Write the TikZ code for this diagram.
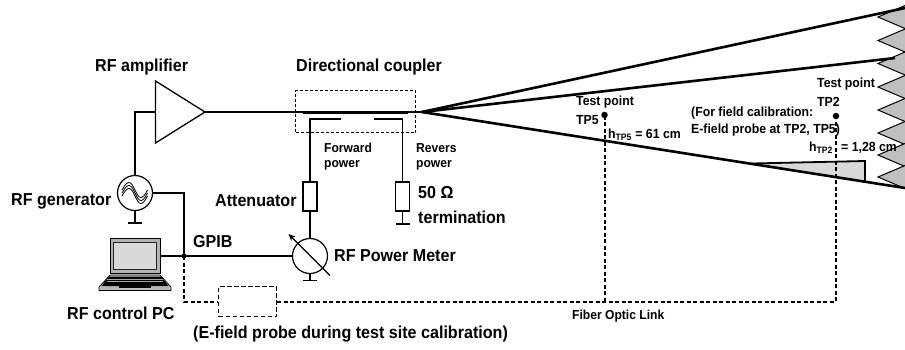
\documentclass[tikz,border=0pt]{standalone}
\usepackage{fontspec}
\setmainfont[FakeStretch=0.93]{Liberation Sans}
\usetikzlibrary{arrows.meta}
\definecolor{lg}{gray}{0.85}
\definecolor{ag}{gray}{0.75}
\tikzset{
  lbl/.style={anchor=west,inner sep=0pt,font=\fontsize{17.3}{19}\bfseries\selectfont,text=black},
  sm/.style={anchor=west,inner sep=0pt,font=\fontsize{13}{15}\bfseries\selectfont,text=black},
  md/.style={anchor=west,inner sep=0pt,font=\fontsize{13.2}{15}\bfseries\selectfont,text=black},
  wire/.style={draw=black,line width=1.3pt},
  dashlink/.style={draw=black,line width=2pt,dash pattern=on 4pt off 2.5pt},
  dashbox/.style={draw=black,line width=1.1pt,dash pattern=on 3pt off 2pt},
  probebox/.style={draw=black,line width=1.1pt,dash pattern=on 4.5pt off 2.5pt},
  horn/.style={draw=black,line width=2.6pt},
  roundel/.style={circle,draw=black,line width=1.2pt,minimum size=35pt,inner sep=0pt,fill=white},
  res/.style={rectangle,draw=black,line width=1.2pt,minimum width=14pt,minimum height=29pt,inner sep=0pt,fill=white},
  pt/.style={circle,fill=black,inner sep=0pt,minimum size=6.5pt},
}
\begin{document}
\begin{tikzpicture}[x=1pt,y=-1pt]
\useasboundingbox[fill=white] (0,0) rectangle (905,349);
% absorbers
\foreach \t in {17,40.5,63.5,87,110,133,155,177}{
  \path[fill=ag,draw=black,line width=1pt] (905,\t-11.5) -- (878,\t) -- (905,\t+11.5);
}
% named points
\coordinate (apex) at (422,112);
\coordinate (h1) at (905,8);
\coordinate (h2) at (895,58);
\coordinate (h3) at (905,188);
\coordinate (ampA) at (155.5,81);
\coordinate (ampB) at (155.5,143);
\coordinate (ampC) at (205,112);
\coordinate (ampIn) at (155.5,112);
% devices
\node[roundel] (gen) at (135,193) {};
\node[roundel] (meter) at (310,256) {};
\node[res] (att) at (310,196.5) {};
\node[res] (term) at (402.5,196.5) {};
\node[rectangle,dashbox,minimum width=120pt,minimum height=42pt,inner sep=0pt] (coupler) at (355.5,111.5) {};
\node[rectangle,probebox,minimum width=58pt,minimum height=30pt,inner sep=0pt] (probe) at (247.5,301.5) {};
\node[pt] (tp5) at (604.5,115) {};
\node[pt] (tp2) at (836,116) {};
\node[circle,fill=black,inner sep=0pt,minimum size=5pt] (junc) at (184,256) {};
% laptop
\node[rectangle,draw=black,fill=gray!60,line width=.8pt,minimum width=50pt,minimum height=35pt,inner sep=0pt] (pc) at (135,256) {};
\path[fill=lg,draw=black!85,line width=.9pt] (113.5,242.5) rectangle (156.5,269.5);
\path[fill=gray!50,draw=black,line width=.7pt] (110,275) -- (160,275) -- (171,287) -- (171,290.5) -- (99,290.5) -- (99,287) -- cycle;
\path[fill=black] (109,276.5) -- (161,276.5) -- (168.5,286) -- (101.5,286) -- cycle;
\foreach \y in {279,281.5}{\path[draw=gray!70,line width=.5pt] (107,\y) -- (163,\y);}
\path[fill=gray!60] (101,287) rectangle (119,288.8);
\path[fill=gray!60] (151,287) rectangle (169,288.8);
\path[fill=black] (119,285.5) rectangle (151,288);
% horn
\path[fill=lg,draw=black,line width=1.8pt] (751.5,163.5) -- (865,161) -- (865,181.5);
\draw[horn] (apex) -- (h1);
\draw[horn] (apex) -- (h2);
\draw[horn] (apex) -- (h3);
% amplifier
\draw[wire,fill=white] (ampA) -- (ampC) -- (ampB) -- cycle;
% connectors
\draw[wire] (ampC) -- (apex);
\draw[draw=black,line width=3pt] (303,112) -- (408,112);
\draw[wire] (ampIn) -| (gen.north);
\draw[wire] (gen.east) -| (junc.center);
\draw[wire] (pc.east) -- (meter.west);
\draw[wire] (340.5,119) -- (310,119) -- (att.north);
\draw[wire] (att.south) -- (meter.north);
\draw[wire] (374,119) -- (402.5,119) -- (term.north);
% grounds
\coordinate (g1) at (135,223);
\coordinate (g2) at (310,280.5);
\coordinate (g3) at (402.5,224);
\draw[wire] (gen.south) -- (g1) (128,223) -- (142,223);
\draw[wire] (meter.south) -- (g2) (303,280.5) -- (317,280.5);
\draw[wire] (term.south) -- (g3) (395.5,224) -- (409.5,224);
% meter arrow
\draw[wire,-{Stealth[length=7pt,width=6pt]}] (330,275.5) -- (288.5,234);
% generator waves
\foreach \d in {-3,0,3}{
  \draw[black,line width=.8pt] (122,193+\d) .. controls (128,182+\d) and (131,184+\d) .. (135,193+\d) .. controls (139,202+\d) and (142,204+\d) .. (147.5,193+\d);
}
% dashed link
\draw[dashlink] (junc.center) |- (probe.west);
\draw[dashlink] (probe.east) -- (836,301.5) -- (tp2.center);
\draw[dashlink] (604.5,301.5) -- (tp5.center);
% labels
\node[lbl] at (95,67) {RF amplifier};
\node[lbl] at (296,67) {Directional coupler};
\node[lbl] at (11,201) {RF generator};
\node[lbl] at (215,201) {Attenuator};
\node[lbl] at (67,313) {RF control PC};
\node[lbl] at (193,242) {GPIB};
\node[lbl] at (193,334) {(E-field probe during test site calibration)};
\node[lbl] at (418,193) {50 Ω};
\node[lbl] at (418,217) {termination};
\node[lbl] at (334,256) {RF Power Meter};
\node[sm] at (324,148) {Forward};
\node[sm] at (324,165) {power};
\node[sm] at (416,148) {Revers};
\node[sm] at (416,165) {power};
\node[sm] at (572,316) {Fiber Optic Link};
\node[md] at (576,102) {Test point};
\node[md] at (576,120) {TP5};
\node[md] at (608,135) {h\textsubscript{TP5} = 61 cm};
\node[md] at (691,113) {(For field calibration:};
\node[md] at (691,130) {E-field probe at TP2, TP5)};
\node[md] at (817,84) {Test point};
\node[md] at (817,102) {TP2};
\node[md] at (809,148) {h\textsubscript{TP2}};
\node[md] at (841,148) {= 1,28 cm};
\end{tikzpicture}
\end{document}
